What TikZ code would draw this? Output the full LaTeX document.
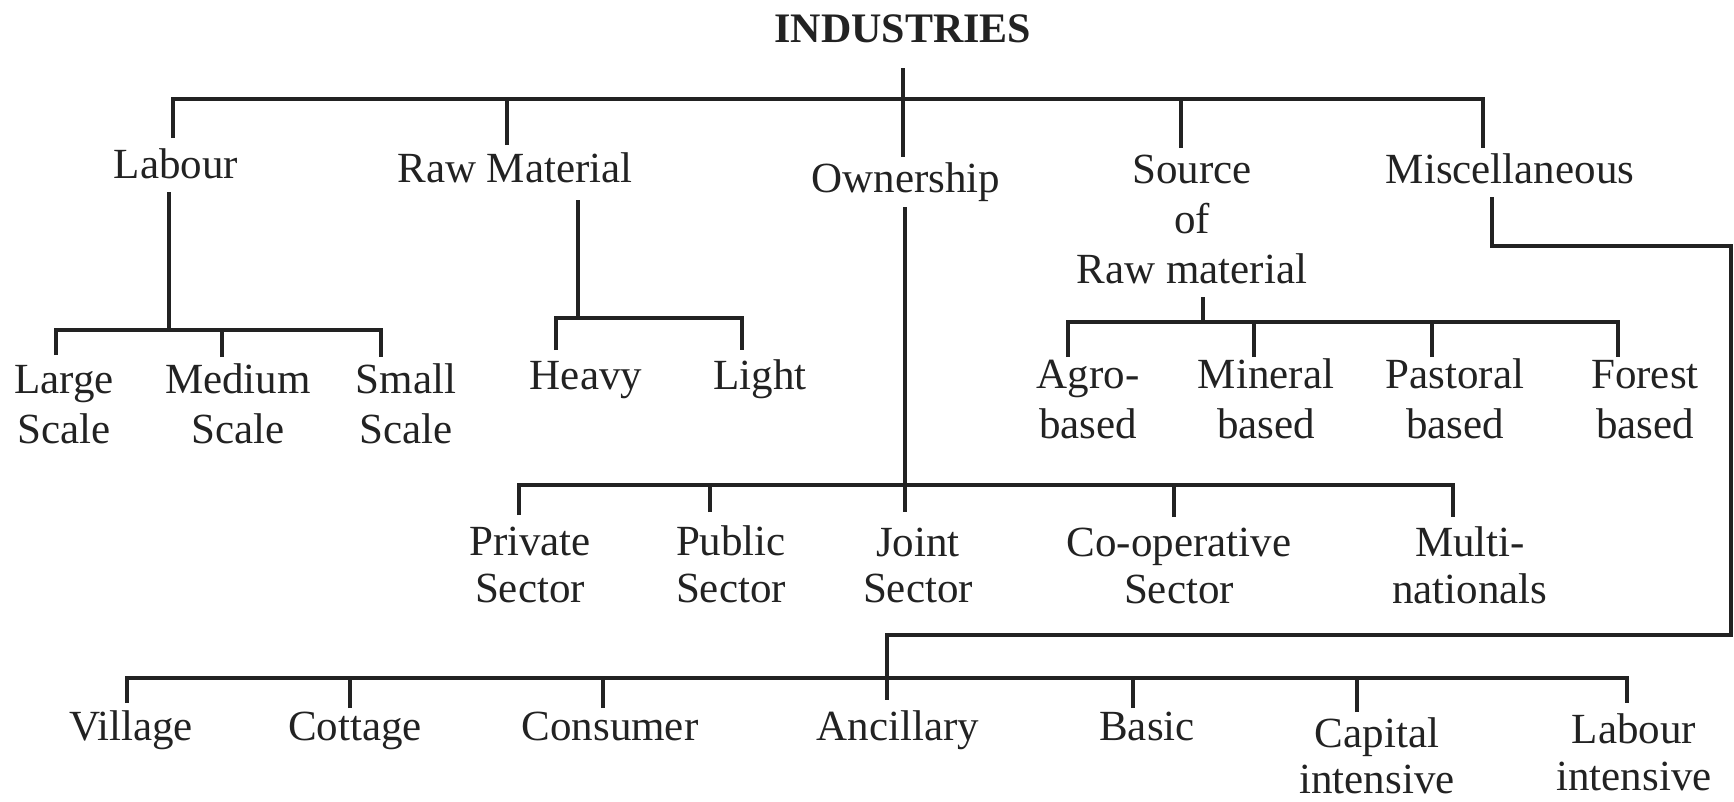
\documentclass[tikz,border=0pt]{standalone}
\usepackage{fontspec}
\setmainfont{Liberation Serif}
\definecolor{ink}{RGB}{34,34,34}
\begin{document}
\begin{tikzpicture}[x=1pt,y=1pt,
  lbl/.style={anchor=north,inner sep=0pt,align=center,text=ink,
    font=\fontsize{43}{50}\selectfont},
  ttl/.style={anchor=north,inner sep=0pt,text=ink,
    font=\fontsize{42}{50}\selectfont\bfseries},
  conn/.style={draw=ink,line width=3.4pt,line cap=butt,line join=miter}]
\useasboundingbox (0,0) rectangle (1734,-801);
% labels (north = first baseline - 35, the strut height)
\node[ttl] (ind) at (903,-7) {\strut INDUSTRIES};
\node[lbl] (lab) at (176,-143) {\strut Labour};
\node[lbl] (raw) at (515,-147) {\strut Raw Material};
\node[lbl] (own) at (906,-157) {\strut Ownership};
\node[lbl] (src) at (1192,-148) {\strut Source\\of\\Raw material};
\node[lbl] (misc) at (1510,-148) {\strut Miscellaneous};
\node[lbl] (large) at (64,-358) {\strut Large\\Scale};
\node[lbl] (medium) at (238,-358) {\strut Medium\\Scale};
\node[lbl] (small) at (406,-358) {\strut Small\\Scale};
\node[lbl] (heavy) at (586,-354) {\strut Heavy};
\node[lbl] (light) at (760,-354) {\strut Light};
\node[lbl] (agro) at (1088,-353) {\strut Agro-\\based};
\node[lbl] (mineral) at (1266,-353) {\strut Mineral\\based};
\node[lbl] (pastoral) at (1455,-353) {\strut Pastoral\\based};
\node[lbl] (forest) at (1645,-353) {\strut Forest\\based};
\node[lbl] (private) at (530,-520) {\strut Private\\[-3pt]Sector};
\node[lbl] (public) at (731,-520) {\strut Public\\[-3pt]Sector};
\node[lbl] (joint) at (918,-521) {\strut Joint\\[-4pt]Sector};
\node[lbl] (coop) at (1179,-521) {\strut Co-operative\\[-3pt]Sector};
\node[lbl] (multi) at (1470,-521) {\strut Multi-\\[-3pt]nationals};
\node[lbl] (village) at (131,-705) {\strut Village};
\node[lbl] (cottage) at (355,-705) {\strut Cottage};
\node[lbl] (consumer) at (610,-705) {\strut Consumer};
\node[lbl] (ancillary) at (898,-705) {\strut Ancillary};
\node[lbl] (basic) at (1147,-705) {\strut Basic};
\node[lbl] (capital) at (1377,-712) {\strut Capital\\[-4pt]intensive};
\node[lbl] (labint) at (1634,-708) {\strut Labour\\[-3pt]intensive};
% connector coordinates
\coordinate (indB) at (903,-68);
\coordinate (ownT) at (903,-157);
\coordinate (labT) at (173,-138);
\coordinate (rawT) at (507,-145);
\coordinate (srcT) at (1181,-148);
\coordinate (miscT) at (1483,-148);
\coordinate (labB) at (169,-192);
\coordinate (largeT) at (56,-355);
\coordinate (mediumT) at (222,-357);
\coordinate (smallT) at (381,-357);
\coordinate (rawB) at (578,-200);
\coordinate (heavyT) at (556,-350);
\coordinate (lightT) at (742,-350);
\coordinate (srcB) at (1203,-297);
\coordinate (agroT) at (1068,-357);
\coordinate (mineralT) at (1254,-357);
\coordinate (pastoralT) at (1432,-357);
\coordinate (forestT) at (1618,-357);
\coordinate (ownB) at (905,-207);
\coordinate (privateT) at (519,-515);
\coordinate (publicT) at (710,-512);
\coordinate (jointT) at (905,-512);
\coordinate (coopT) at (1174,-517);
\coordinate (multiT) at (1453,-517);
\coordinate (miscB) at (1492,-197);
\coordinate (ancT) at (887,-700);
\coordinate (villageT) at (127,-703);
\coordinate (cottageT) at (350,-708);
\coordinate (consumerT) at (603,-708);
\coordinate (basicT) at (1133,-708);
\coordinate (capitalT) at (1357,-712);
\coordinate (labintT) at (1627,-703);
% top level
\draw[conn] (indB) -- (ownT);
\draw[conn] (labT) -- (173,-99) -- (1483,-99) -- (miscT);
\draw[conn] (rawT) -- (507,-99);
\draw[conn] (srcT) -- (1181,-99);
% labour
\draw[conn] (labB) -- (169,-330);
\draw[conn] (largeT) -- (56,-330) -- (381,-330) -- (smallT);
\draw[conn] (mediumT) -- (222,-330);
% raw material
\draw[conn] (rawB) -- (578,-318);
\draw[conn] (heavyT) -- (556,-318) -- (742,-318) -- (lightT);
% source of raw material
\draw[conn] (srcB) -- (1203,-322);
\draw[conn] (agroT) -- (1068,-322) -- (1618,-322) -- (forestT);
\draw[conn] (mineralT) -- (1254,-322);
\draw[conn] (pastoralT) -- (1432,-322);
% ownership
\draw[conn] (ownB) -- (jointT);
\draw[conn] (privateT) -- (519,-485) -- (1453,-485) -- (multiT);
\draw[conn] (publicT) -- (710,-485);
\draw[conn] (coopT) -- (1174,-485);
% miscellaneous
\draw[conn] (miscB) -- (1492,-246) -- (1731,-246) -- (1731,-635) -- (887,-635) -- (ancT);
\draw[conn] (villageT) -- (127,-678) -- (1627,-678) -- (labintT);
\draw[conn] (cottageT) -- (350,-678);
\draw[conn] (consumerT) -- (603,-678);
\draw[conn] (basicT) -- (1133,-678);
\draw[conn] (capitalT) -- (1357,-678);
\end{tikzpicture}
\end{document}
